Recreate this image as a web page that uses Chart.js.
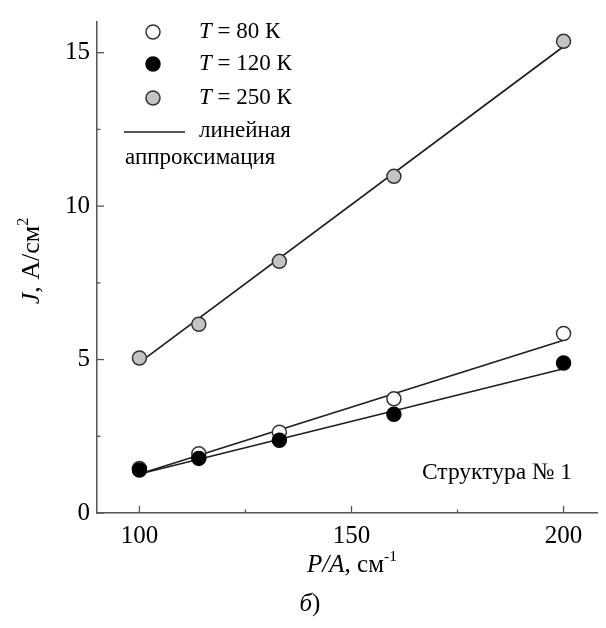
<!DOCTYPE html>
<html>
<head>
<meta charset="utf-8">
<script src="https://cdn.jsdelivr.net/npm/chart.js@4/dist/chart.umd.min.js"></script>
<style>
  html, body { margin: 0; padding: 0; background: #fff; }
  #wrap { width: 606px; height: 628px; }
</style>
</head>
<body>
<div id="wrap"><canvas id="grafico"></canvas></div>
<script>
// P/A, см^-1
const xValues = [100, 114, 133, 160, 200];
// J, А/см^2 for each temperature
const j80 = [1.45, 1.93, 2.63, 3.72, 5.85];
const j120 = [1.40, 1.78, 2.37, 3.22, 4.89];
const j250 = [5.05, 6.15, 8.2, 10.97, 15.37];

// linear approximation: end points at P/A = 100 and 200
const fitX = [100, 200];
const fit80 = [1.27, 5.63];
const fit120 = [1.27, 4.70];
const fit250 = [4.90, 15.2];

const xTicks = [100, 125, 150, 175, 200];
const yTicks = [0, 2.5, 5, 7.5, 10, 12.5, 15];

const SERIF = '"Liberation Serif", "Times New Roman", serif';
const AXIS = '#555';
const LINE = '#1e1e1e';

const pts = (xs, ys) => xs.map((x, i) => ({ x: x, y: ys[i] }));

// width of a run of text pieces (italic / superscript)
function runsWidth(ctx, runs, size) {
  let w = 0;
  runs.forEach(r => {
    ctx.font = (r.italic ? 'italic ' : '') + (r.sup ? size * 0.62 : size) + 'px ' + SERIF;
    w += ctx.measureText(r.text).width;
  });
  return w;
}
function drawRuns(ctx, runs, x, y, size) {
  ctx.textBaseline = 'middle';
  ctx.textAlign = 'left';
  runs.forEach(r => {
    const s = r.sup ? size * 0.62 : size;
    ctx.font = (r.italic ? 'italic ' : '') + s + 'px ' + SERIF;
    ctx.fillText(r.text, x, r.sup ? y - size * 0.33 : y);
    x += ctx.measureText(r.text).width;
  });
}

// small tick marks pointing into the plot
const innerTicks = {
  id: 'innerTicks',
  afterDraw(chart) {
    const ctx = chart.ctx;
    const xs = chart.scales.x, ys = chart.scales.y;
    ctx.save();
    ctx.strokeStyle = AXIS;
    ctx.lineWidth = 1.3;
    xs.ticks.forEach(t => {
      const px = xs.getPixelForValue(t.value);
      const len = t.value % 50 === 0 ? 7 : 3.5;
      ctx.beginPath();
      ctx.moveTo(px, xs.top);
      ctx.lineTo(px, xs.top - len);
      ctx.stroke();
    });
    ys.ticks.forEach(t => {
      const py = ys.getPixelForValue(t.value);
      const len = t.value % 5 === 0 ? 7 : 3.5;
      ctx.beginPath();
      ctx.moveTo(ys.right, py);
      ctx.lineTo(ys.right + len, py);
      ctx.stroke();
    });
    ctx.restore();
  }
};

// legend, axis titles and captions
const labelsPlugin = {
  id: 'labels',
  afterDraw(chart) {
    const ctx = chart.ctx;
    const ds = chart.data.datasets;
    ctx.save();
    ctx.fillStyle = '#000';

    const rows = [[ds[1], '80', 32], [ds[0], '120', 64], [ds[2], '250', 98]];
    rows.forEach(([d, t, y]) => {
      ctx.beginPath();
      ctx.arc(153, y, d.pointRadius, 0, Math.PI * 2);
      ctx.fillStyle = d.backgroundColor;
      ctx.fill();
      ctx.lineWidth = d.borderWidth;
      ctx.strokeStyle = d.borderColor;
      ctx.stroke();
      ctx.fillStyle = '#000';
      drawRuns(ctx, [{ text: 'T', italic: true }, { text: ' = ' + t + ' К' }], 199, y, 23);
    });
    ctx.beginPath();
    ctx.strokeStyle = LINE;
    ctx.lineWidth = 1.5;
    ctx.moveTo(124, 132);
    ctx.lineTo(185, 132);
    ctx.stroke();
    drawRuns(ctx, [{ text: 'линейная' }], 199, 131, 23);
    drawRuns(ctx, [{ text: 'аппроксимация' }], 125, 158, 23);

    drawRuns(ctx, [{ text: 'Структура № 1' }], 422, 473, 23.5);

    // x title
    const xr = [{ text: 'P/A', italic: true }, { text: ', см' }, { text: '-1', sup: true }];
    const xw = runsWidth(ctx, xr, 25);
    drawRuns(ctx, xr, 352 - xw / 2, 565, 25);

    // y title
    const yr = [{ text: 'J', italic: true }, { text: ', А/см' }, { text: '2', sup: true }];
    const yw = runsWidth(ctx, yr, 26);
    ctx.save();
    ctx.translate(32, 261);
    ctx.rotate(-Math.PI / 2);
    drawRuns(ctx, yr, -yw / 2, 0, 26);
    ctx.restore();

    const br = [{ text: 'б', italic: true }, { text: ')' }];
    const bw = runsWidth(ctx, br, 25);
    drawRuns(ctx, br, 310 - bw / 2, 604, 25);
    ctx.restore();
  }
};

const markerBase = { showLine: false, pointRadius: 7, pointHoverRadius: 7, borderWidth: 1.5, borderColor: '#333' };
const fitBase = { showLine: true, pointRadius: 0, borderColor: LINE, borderWidth: 1.7, fill: false };

new Chart(document.getElementById('grafico'), {
  type: 'scatter',
  data: {
    datasets: [
      Object.assign({ label: 'T = 120 К', data: pts(xValues, j120), backgroundColor: '#000' }, markerBase, { borderColor: '#000' }),
      Object.assign({ label: 'T = 80 К', data: pts(xValues, j80), backgroundColor: '#fff' }, markerBase),
      Object.assign({ label: 'T = 250 К', data: pts(xValues, j250), backgroundColor: '#c4c4c4' }, markerBase),
      Object.assign({ label: 'fit 80', data: pts(fitX, fit80) }, fitBase),
      Object.assign({ label: 'fit 120', data: pts(fitX, fit120) }, fitBase),
      Object.assign({ label: 'fit 250', data: pts(fitX, fit250) }, fitBase)
    ]
  },
  options: {
    responsive: true,
    maintainAspectRatio: false,
    animation: false,
    layout: { padding: { top: 12, right: 8, left: 0, bottom: 0 } },
    plugins: {
      legend: { display: false },
      tooltip: { enabled: false }
    },
    scales: {
      x: {
        type: 'linear',
        min: 90,
        max: 208,
        afterBuildTicks: s => { s.ticks = xTicks.map(v => ({ value: v })); },
        afterFit: s => { s.height = 115; },
        grid: { display: false, drawTicks: false },
        border: { display: true, color: AXIS, width: 1.5 },
        ticks: {
          autoSkip: false,
          maxRotation: 0,
          padding: 8,
          color: '#000',
          font: { family: SERIF, size: 25 },
          callback: v => (v % 50 === 0 ? v : '')
        }
      },
      y: {
        min: 0,
        max: 16,
        afterBuildTicks: s => { s.ticks = yTicks.map(v => ({ value: v })); },
        afterFit: s => { s.width = 97; },
        grid: { display: false, drawTicks: false },
        border: { display: true, color: AXIS, width: 1.5 },
        ticks: {
          autoSkip: false,
          padding: 7,
          color: '#000',
          font: { family: SERIF, size: 25 },
          callback: v => (v % 5 === 0 ? v : '')
        }
      }
    }
  },
  plugins: [innerTicks, labelsPlugin]
});
</script>
</body>
</html>
